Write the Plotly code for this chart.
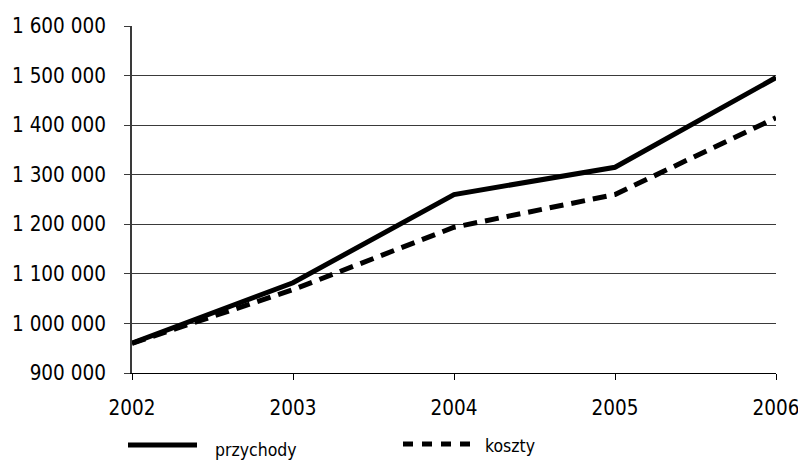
import plotly.graph_objects as go

# Yearly revenue and cost figures
years = [2002, 2003, 2004, 2005, 2006]
przychody = [960000, 1082000, 1260000, 1315000, 1496000]
koszty = [960000, 1068000, 1194000, 1260000, 1415000]

y_ticks = [900000, 1000000, 1100000, 1200000, 1300000, 1400000, 1500000, 1600000]
series_names = ["przychody", "koszty"]

FONT = "DejaVu Sans Condensed, Liberation Sans Narrow, sans-serif"
INK = "#000000"
GRID = "#3a3a3a"

fig = go.Figure()
fig.add_trace(go.Scatter(
    x=years, y=przychody, mode="lines", name=series_names[0],
    line=dict(color=INK, width=5), showlegend=False,
))
fig.add_trace(go.Scatter(
    x=years, y=koszty, mode="lines", name=series_names[1],
    line=dict(color=INK, width=5, dash="14px,8px"), showlegend=False,
))

# Legend row below the axis, drawn with wide line samples
px_to_x = lambda px: (px - 132) / 644
px_to_y = lambda py: (373 - py) / 347
fig.add_shape(type="line", xref="paper", yref="paper",
              x0=px_to_x(128), x1=px_to_x(197), y0=px_to_y(445), y1=px_to_y(445),
              line=dict(color=INK, width=5))
fig.add_shape(type="line", xref="paper", yref="paper",
              x0=px_to_x(403), x1=px_to_x(473), y0=px_to_y(444), y1=px_to_y(444),
              line=dict(color=INK, width=5, dash="10px,9px"))
fig.add_annotation(x=px_to_x(213), y=px_to_y(450), xref="paper", yref="paper",
                   text=series_names[0], showarrow=False, xanchor="left", yanchor="middle",
                   font=dict(family=FONT, size=17.5, color=INK))
fig.add_annotation(x=px_to_x(483), y=px_to_y(446), xref="paper", yref="paper",
                   text=series_names[1], showarrow=False, xanchor="left", yanchor="middle",
                   font=dict(family=FONT, size=17.5, color=INK))

fig.update_layout(
    width=798, height=462,
    margin=dict(l=132, r=22, t=26, b=89, autoexpand=False),
    paper_bgcolor="white", plot_bgcolor="white",
    separators=", ",
    font=dict(family=FONT, size=20.5, color=INK),
    showlegend=False,
)
fig.update_xaxes(
    range=[2002, 2006], tickvals=years, ticktext=[str(y) for y in years],
    showgrid=False, zeroline=False, automargin=False,
    showline=True, linecolor=INK, linewidth=1,
    ticks="outside", ticklen=6, tickcolor=INK, tickwidth=1,
    ticklabelstandoff=10, ticklabeloverflow="allow",
    tickfont=dict(family=FONT, size=20.5, color=INK),
)
fig.update_yaxes(
    range=[900000, 1600000], tickvals=y_ticks, tickformat=",d",
    showgrid=True, gridcolor=GRID, gridwidth=1, zeroline=False, automargin=False,
    showline=True, linecolor=GRID, linewidth=2,
    ticks="outside", ticklen=6, tickcolor=GRID, tickwidth=1,
    ticklabelstandoff=14, ticklabeloverflow="allow",
    tickfont=dict(family=FONT, size=20.5, color=INK),
)

fig.write_html("out.html")
